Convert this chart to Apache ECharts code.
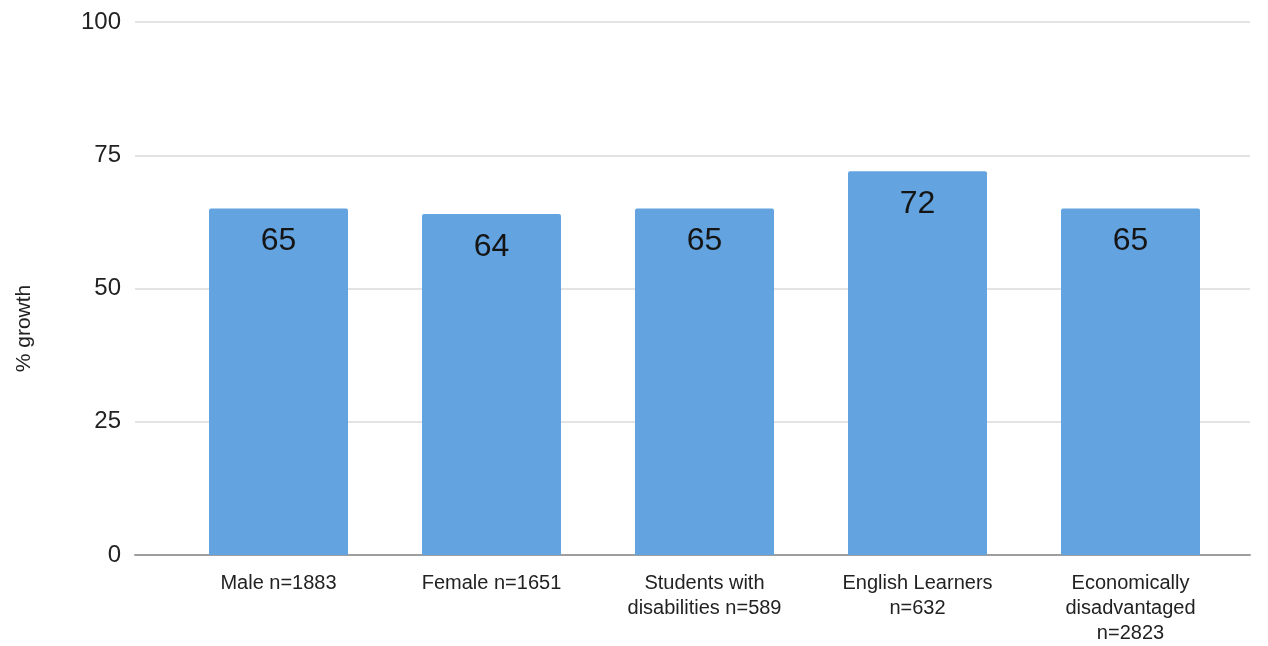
<!DOCTYPE html>
<html>
<head>
    <meta charset="utf-8">
    <title>% growth by group</title>
    <style>
        html, body { margin: 0; padding: 0; background: #fff; }
        #chart { width: 1268px; height: 646px; }
    </style>
</head>
<body>
    <div id="chart"></div>
    <script src="https://cdn.jsdelivr.net/npm/echarts@6/dist/echarts.min.js"></script>
    <script>
        // groups and their growth values
        var groups = ['Male n=1883', 'Female n=1651', 'Students with\ndisabilities n=589', 'English Learners\nn=632', 'Economically\ndisadvantaged\nn=2823'];
        var growth = [65, 64, 65, 72, 65];
        var yTicks = [0, 25, 50, 75, 100];

        var chart = echarts.init(document.getElementById('chart'));
        var font = 'Liberation Sans, Arial, sans-serif';

        var option = {
            backgroundColor: '#fff',
            animation: false,
            grid: [
                // background grid: gridlines + y labels span the full width
                { left: 135, right: 18, top: 22, bottom: 91 },
                // bars grid: categories sit inset from the gridline ends
                { left: 172, right: 31, top: 22, bottom: 91 }
            ],
            xAxis: [
                {
                    gridIndex: 0, type: 'category', data: [''],
                    axisLine: { show: true, lineStyle: { color: '#9e9e9e', width: 2 } },
                    axisTick: { show: false }, axisLabel: { show: false }
                },
                {
                    gridIndex: 1, type: 'category', data: groups,
                    axisLine: { show: false }, axisTick: { show: false },
                    axisLabel: {
                        color: '#222', fontSize: 20, lineHeight: 25,
                        fontFamily: font, margin: 16, interval: 0
                    }
                }
            ],
            yAxis: [
                {
                    gridIndex: 0, type: 'value', min: yTicks[0], max: yTicks[yTicks.length - 1], interval: 25,
                    name: '% growth', nameLocation: 'middle', nameGap: 100,
                    nameTextStyle: { color: '#222', fontSize: 21, fontFamily: font, padding: [0, 80, 0, 0] },
                    axisLine: { show: false }, axisTick: { show: false },
                    axisLabel: { color: '#222', fontSize: 24, margin: 14, fontFamily: font },
                    splitLine: { lineStyle: { color: '#e3e3e3', width: 2 } }
                },
                {
                    gridIndex: 1, type: 'value', min: 0, max: 100, interval: 25,
                    show: false, splitLine: { show: false }
                }
            ],
            series: [{
                type: 'bar',
                xAxisIndex: 1, yAxisIndex: 1,
                data: growth,
                barWidth: 139,
                itemStyle: { color: '#62a3e0', borderRadius: [2, 2, 0, 0] },
                label: {
                    show: true, position: 'insideTop', distance: 17,
                    color: '#151515', fontSize: 32, fontFamily: font
                }
            }]
        };

        chart.setOption(option);
        window.addEventListener('resize', function () {
            chart.resize();
        });
    </script>
</body>
</html>
